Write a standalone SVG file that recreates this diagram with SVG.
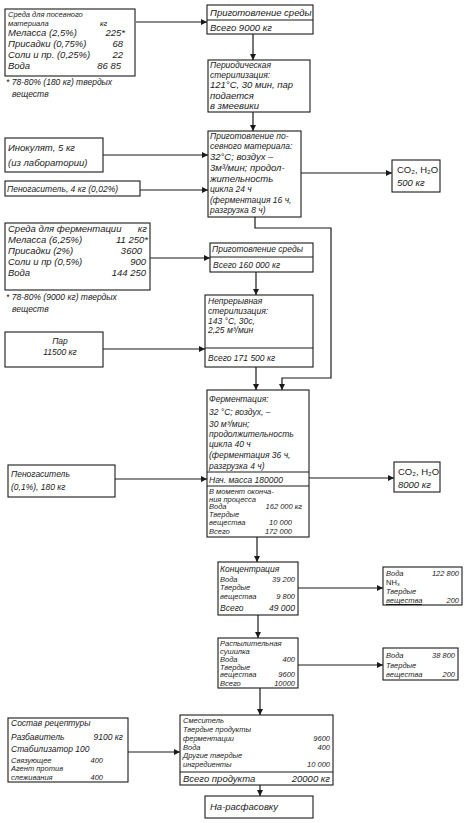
<svg xmlns="http://www.w3.org/2000/svg" width="466" height="823" viewBox="0 0 466 823">
<style>
.b{fill:#fff;stroke:#1a1a1a;stroke-width:1.1}
.d{stroke:#1a1a1a;stroke-width:1}
.t{font-family:"Liberation Sans",Arial,sans-serif;font-style:italic;font-size:9.5px;fill:#1a1a1a}
.s{font-size:8.5px}
.x{font-size:7.5px}
.e{text-anchor:end}
.m{text-anchor:middle}
.c{fill:none;stroke:#1a1a1a;stroke-width:1.2}
</style>
<defs>
<marker id="a" viewBox="0 0 10 10" refX="10" refY="5" markerWidth="8" markerHeight="6" markerUnits="userSpaceOnUse" orient="auto">
<path d="M0,0 L10,5 L0,10 Z" fill="#1a1a1a"/>
</marker>
</defs>
<rect width="466" height="823" fill="#fff"/>

<g id="connectors">
<line class="c" x1="136" y1="22" x2="207" y2="22" marker-end="url(#a)"/>
<line class="c" x1="253" y1="34" x2="253" y2="60" marker-end="url(#a)"/>
<line class="c" x1="253" y1="112" x2="253" y2="131" marker-end="url(#a)"/>
<line class="c" x1="103" y1="155" x2="208" y2="155" marker-end="url(#a)"/>
<line class="c" x1="140" y1="190" x2="208" y2="190" marker-end="url(#a)"/>
<line class="c" x1="301" y1="173" x2="392" y2="173" marker-end="url(#a)"/>
<polyline class="c" points="255,217 255,228 331,228 331,378 282,378 282,390" marker-end="url(#a)"/>
<line class="c" x1="150" y1="258" x2="210" y2="258" marker-end="url(#a)"/>
<line class="c" x1="256" y1="272" x2="256" y2="295" marker-end="url(#a)"/>
<line class="c" x1="103" y1="349" x2="205" y2="349" marker-end="url(#a)"/>
<line class="c" x1="256" y1="367" x2="256" y2="390" marker-end="url(#a)"/>
<line class="c" x1="115" y1="479" x2="207" y2="479" marker-end="url(#a)"/>
<line class="c" x1="309" y1="478" x2="394" y2="478" marker-end="url(#a)"/>
<line class="c" x1="257" y1="537" x2="257" y2="562" marker-end="url(#a)"/>
<line class="c" x1="298" y1="588" x2="383" y2="588" marker-end="url(#a)"/>
<line class="c" x1="258" y1="615" x2="258" y2="638" marker-end="url(#a)"/>
<line class="c" x1="298" y1="665" x2="383" y2="665" marker-end="url(#a)"/>
<line class="c" x1="260" y1="688" x2="260" y2="715" marker-end="url(#a)"/>
<line class="c" x1="128" y1="752" x2="180" y2="752" marker-end="url(#a)"/>
<line class="c" x1="260" y1="785" x2="260" y2="796" marker-end="url(#a)"/>
</g>

<g id="seed-medium">
<rect class="b" x="5" y="9" width="130" height="67"/>
<text class="t x" x="8" y="17">Среда для посевного</text>
<text class="t x" x="8" y="26">материала</text>
<text class="t x" x="100" y="26">кг</text>
<text class="t" x="8" y="36">Меласса (2,5%)</text>
<text class="t e" x="125" y="36">225*</text>
<text class="t" x="8" y="47">Присадки (0,75%)</text>
<text class="t e" x="123" y="47">68</text>
<text class="t" x="8" y="58">Соли и пр. (0,25%)</text>
<text class="t e" x="123" y="58">22</text>
<text class="t" x="8" y="69">Вода</text>
<text class="t e" x="121" y="69">86 85</text>
</g>
<g id="seed-note">
<text class="t s" x="6" y="85">* 78-80% (180 кг) твердых</text>
<text class="t s" x="12" y="97">веществ</text>
</g>

<g id="prep1">
<rect class="b" x="207" y="5" width="106" height="29"/>
<line class="d" x1="207" y1="20" x2="313" y2="20"/>
<text class="t" x="210" y="16">Приготовление среды</text>
<text class="t" x="210" y="31">Всего  9000 кг</text>
</g>

<g id="steril1">
<rect class="b" x="208" y="60" width="102" height="52"/>
<text class="t s" x="210" y="68">Периодическая</text>
<text class="t s" x="210" y="77.5">стерилизация:</text>
<text class="t" x="210" y="88">121°C, 30 мин, пар</text>
<text class="t" x="210" y="99">подается</text>
<text class="t" x="210" y="109">в змеевики</text>
</g>

<g id="inoculum">
<rect class="b" x="5" y="138" width="98" height="34"/>
<text class="t" x="8" y="151">Инокулят, 5 кг</text>
<text class="t" x="8" y="166">(из лаборатории)</text>
</g>

<g id="antifoam1">
<rect class="b" x="5" y="181" width="135" height="15"/>
<text class="t s" x="7" y="192">Пеногаситель, 4 кг (0,02%)</text>
</g>

<g id="seed-prep">
<rect class="b" x="208" y="131" width="93" height="86"/>
<text class="t s" x="210" y="139">Приготовление по-</text>
<text class="t s" x="210" y="149">севного материала:</text>
<text class="t" x="210" y="160">32°C; воздух –</text>
<text class="t" x="210" y="171">3м³/мин; продол-</text>
<text class="t" x="210" y="182">жительность</text>
<text class="t s" x="210" y="192">цикла 24 ч</text>
<text class="t s" x="210" y="203">(ферментация 16 ч,</text>
<text class="t s" x="210" y="213">разгрузка 8 ч)</text>
</g>

<g id="co2-1">
<rect class="b" x="392" y="160" width="48" height="32"/>
<text class="t" x="397" y="173" style="font-style:normal">CO₂, H₂O</text>
<text class="t" x="397" y="186">500 кг</text>
</g>

<g id="ferm-medium">
<rect class="b" x="5" y="223" width="145" height="67"/>
<text class="t" x="8" y="232">Среда для ферментации</text>
<text class="t e" x="147" y="232">кг</text>
<text class="t" x="8" y="243">Меласса (6,25%)</text>
<text class="t e" x="148" y="243">11 250*</text>
<text class="t" x="8" y="254">Присадки (2%)</text>
<text class="t e" x="142" y="254">3600</text>
<text class="t" x="8" y="265">Соли и пр (0,5%)</text>
<text class="t e" x="146" y="265">900</text>
<text class="t" x="8" y="276">Вода</text>
<text class="t e" x="146" y="276">144 250</text>
</g>
<g id="ferm-note">
<text class="t s" x="6" y="300">* 78-80% (9000 кг) твердых</text>
<text class="t s" x="12" y="312">веществ</text>
</g>

<g id="prep2">
<rect class="b" x="210" y="243" width="103" height="29"/>
<line class="d" x1="210" y1="257" x2="313" y2="257"/>
<text class="t s" x="212" y="252">Приготовление среды</text>
<text class="t s" x="213" y="268">Всего  160 000 кг</text>
</g>

<g id="steam">
<rect class="b" x="5" y="332" width="98" height="35"/>
<text class="t s m" x="60" y="344">Пар</text>
<text class="t s m" x="60" y="355">11500 кг</text>
</g>

<g id="steril2">
<rect class="b" x="205" y="295" width="108" height="72"/>
<line class="d" x1="205" y1="348" x2="313" y2="348"/>
<text class="t s" x="208" y="304">Непрерывная</text>
<text class="t s" x="208" y="314">стерилизация:</text>
<text class="t s" x="208" y="324">143 °C, 30с,</text>
<text class="t s" x="208" y="333">2,25 м³/мин</text>
<text class="t s" x="208" y="361">Всего 171 500  кг</text>
</g>

<g id="antifoam2">
<rect class="b" x="8" y="465" width="107" height="32"/>
<text class="t s" x="11" y="477">Пеногаситель</text>
<text class="t s" x="11" y="490">(0,1%), 180 кг</text>
</g>

<g id="fermentation">
<rect class="b" x="207" y="390" width="102" height="147"/>
<line class="d" x1="207" y1="472" x2="309" y2="472"/>
<line class="d" x1="207" y1="486" x2="309" y2="486"/>
<text class="t s" x="209" y="402">Ферментация:</text>
<text class="t s" x="209" y="415">32 °C; воздух, –</text>
<text class="t s" x="209" y="427">30 м³/мин;</text>
<text class="t s" x="209" y="437">продолжительность</text>
<text class="t s" x="209" y="447">цикла 40 ч</text>
<text class="t s" x="209" y="458">(ферментация 36 ч,</text>
<text class="t s" x="209" y="469">разгрузка 4 ч)</text>
<text class="t s" x="209" y="483">Нач. масса 180000</text>
<text class="t x" x="209" y="494">В момент оконча-</text>
<text class="t x" x="209" y="501.5">ния процесса</text>
<text class="t x" x="209" y="509">Вода</text>
<text class="t x e" x="302" y="509">162 000 кг</text>
<text class="t x" x="209" y="516.5">Твердые</text>
<text class="t x" x="209" y="525">вещества</text>
<text class="t x e" x="292" y="525">10 000</text>
<text class="t x" x="209" y="534">Всего</text>
<text class="t x e" x="292" y="534">172 000</text>
</g>

<g id="co2-2">
<rect class="b" x="394" y="462" width="46" height="30"/>
<text class="t" x="398" y="475" style="font-style:normal">CO₂, H₂O</text>
<text class="t" x="398" y="488">8000 кг</text>
</g>

<g id="concentration">
<rect class="b" x="218" y="562" width="80" height="53"/>
<text class="t s" x="220" y="572">Концентрация</text>
<text class="t x" x="220" y="582">Вода</text>
<text class="t x e" x="295" y="582">39 200</text>
<text class="t x" x="220" y="590">Твердые</text>
<text class="t x" x="220" y="599">вещества</text>
<text class="t x e" x="295" y="599">9 800</text>
<text class="t s" x="220" y="611">Всего</text>
<text class="t s e" x="295" y="611">49 000</text>
</g>

<g id="out-conc">
<rect class="b" x="383" y="567" width="79" height="38"/>
<text class="t x" x="386" y="576">Вода</text>
<text class="t x e" x="459" y="576">122 800</text>
<text class="t x" x="386" y="585" style="font-style:normal">NH₃</text>
<text class="t x" x="386" y="594">Твердые</text>
<text class="t x" x="386" y="603">вещества</text>
<text class="t x e" x="459" y="603">200</text>
<line class="d" x1="386" y1="604.5" x2="422" y2="604.5"/>
</g>

<g id="spray-dryer">
<rect class="b" x="218" y="638" width="80" height="50"/>
<text class="t x" x="220" y="646">Распылительная</text>
<text class="t x" x="220" y="654">сушилка</text>
<text class="t x" x="220" y="662">Вода</text>
<text class="t x e" x="295" y="662">400</text>
<text class="t x" x="220" y="669.5">Твердые</text>
<text class="t x" x="220" y="677">вещества</text>
<text class="t x e" x="295" y="677">9600</text>
<text class="t x" x="220" y="685.5">Всего</text>
<text class="t x e" x="295" y="685.5">10000</text>
</g>

<g id="out-dryer">
<rect class="b" x="383" y="648" width="75" height="32"/>
<text class="t x" x="386" y="658">Вода</text>
<text class="t x e" x="455" y="658">38 800</text>
<text class="t x" x="386" y="668">Твердые</text>
<text class="t x" x="386" y="677">вещества</text>
<text class="t x e" x="455" y="677">200</text>
</g>

<g id="recipe">
<rect class="b" x="8" y="718" width="120" height="64"/>
<text class="t s" x="11" y="726">Состав рецептуры</text>
<text class="t s" x="11" y="740">Разбавитель</text>
<text class="t s e" x="123" y="740">9100 кг</text>
<text class="t s" x="11" y="752">Стабилизатор  100</text>
<text class="t x" x="11" y="763">Связующее</text>
<text class="t x e" x="103" y="763">400</text>
<text class="t x" x="11" y="770.5">Агент  против</text>
<text class="t x" x="11" y="780">слеживания</text>
<text class="t x e" x="103" y="780">400</text>
</g>

<g id="mixer">
<rect class="b" x="180" y="715" width="153" height="70"/>
<line class="d" x1="180" y1="772" x2="333" y2="772"/>
<text class="t x" x="183" y="723">Смеситель</text>
<text class="t x" x="183" y="732">Твердые продукты</text>
<text class="t x" x="183" y="741">ферментации</text>
<text class="t x e" x="330" y="741">9600</text>
<text class="t x" x="183" y="749.5">Вода</text>
<text class="t x e" x="330" y="749.5">400</text>
<text class="t x" x="183" y="758">Другие твердые</text>
<text class="t x" x="183" y="767">ингредиенты</text>
<text class="t x e" x="330" y="767">10 000</text>
<text class="t" x="183" y="782">Всего продукта</text>
<text class="t e" x="330" y="782">20000 кг</text>
</g>

<g id="packing">
<rect class="b" x="205" y="796" width="108" height="22"/>
<text class="t" x="210" y="810">На-расфасовку</text>
</g>
</svg>
